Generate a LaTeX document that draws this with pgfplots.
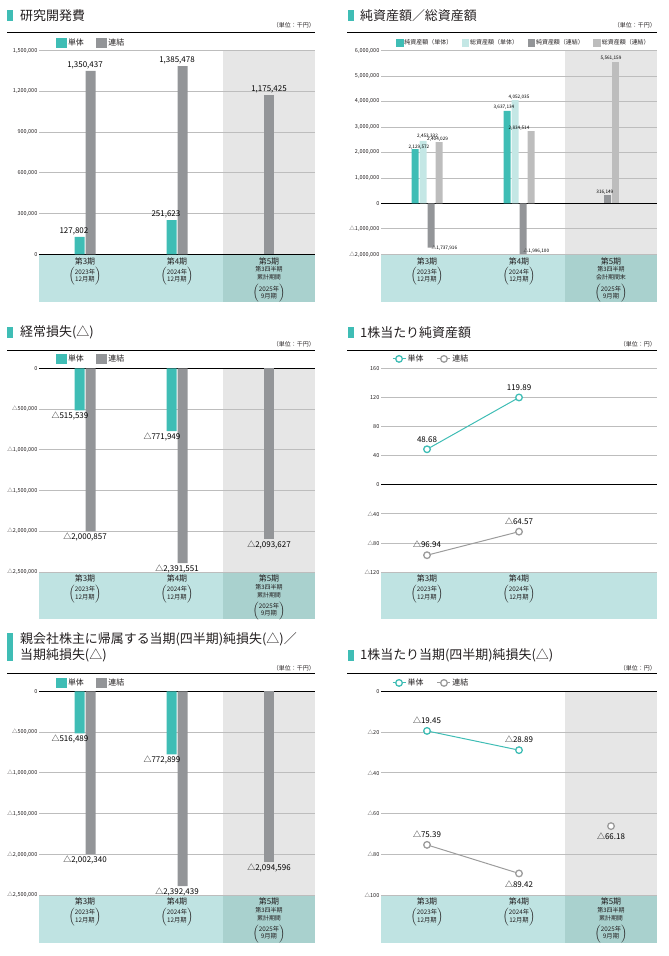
\documentclass[border=0pt]{standalone}
\usepackage{fontspec}
\setmainfont{Noto Sans CJK JP}
\usepackage{pgfplots}
\pgfplotsset{compat=1.18}

\definecolor{tealc}{HTML}{3FBDB5}
\definecolor{greyc}{HTML}{939598}
\definecolor{ltealc}{HTML}{C4E7E5}
\definecolor{lgreyc}{HTML}{BDBDBD}
\definecolor{bandc}{HTML}{BFE3E2}
\definecolor{band3c}{HTML}{A9D1CE}
\definecolor{bgc}{HTML}{E6E6E6}
\definecolor{gridc}{HTML}{BDBDBD}
\definecolor{txtc}{HTML}{231F20}
\definecolor{linegc}{HTML}{9C9C9C}

\newcommand{\fs}[1]{\fontsize{#1}{#1}\selectfont}
% category labels in the band
\newcommand{\paren}[2]{$\Bigl(\vcenter{\hbox{\fontsize{6.3}{6.8}\selectfont\begin{tabular}{@{}c@{}}#1\\#2\end{tabular}}}\Bigr)$}
\newcommand{\catA}[3]{\begin{tabular}{@{}c@{}}\fs{8}#1\\[0bp]\paren{#2}{#3}\end{tabular}}
\newcommand{\catB}[5]{\begin{tabular}{@{}c@{}}\fs{8}#1\\[-0.5bp]\fs{6}#2\\[0bp]\fs{6}#3\\[1.5bp]\paren{#4}{#5}\end{tabular}}

\pgfplotsset{
  base/.style={scale only axis, width=276bp, height=203.7bp,
    xmin=-0.5, xmax=2.5,
    axis line style={draw=none}, major tick length=0pt,
    ymajorgrids, grid style={gridc, line width=0.7bp},
    extra y ticks={0}, extra y tick labels={},
    extra y tick style={grid=major, major grid style={black, line width=1bp}},
    scaled y ticks=false, clip=false,
    yticklabel style={font=\fs{5.5}, text=txtc, inner sep=1.5bp},
    xticklabel style={font=\fs{8}, text=txtc, anchor=north, inner sep=0pt, yshift=-3bp},
    legend columns=-1,
    legend style={draw=none, fill=none, anchor=west, inner sep=0pt, outer sep=0pt,
      nodes={inner sep=1.5bp, text=txtc}},
    every node near coord/.append style={text=black, font=\fs{8}, inner sep=1.5bp},
  },
  lbl/.style={nodes near coords, point meta=explicit symbolic,
    visualization depends on={value \thisrow{A}\as\anc},
    visualization depends on={value \thisrow{DX}\as\dx},
    visualization depends on={value \thisrow{DY}\as\dy},
    every node near coord/.append style={anchor=\anc, xshift=\dx bp, yshift=\dy bp}},
  sq/.style={legend image code/.code={\fill[#1] (0bp,-4.5bp) rectangle (10bp,4.5bp);}},
  sqs/.style={legend image code/.code={\fill[#1] (0bp,-3.3bp) rectangle (6.6bp,3.3bp);}},
  lineleg/.style={legend image code/.code={\draw[mark repeat=2,mark phase=2,##1] plot coordinates {(0bp,0bp) (6.5bp,0bp) (13bp,0bp)};}},
  tline/.style={tealc, line width=1bp, mark=*, mark size=3.3bp, mark options={fill=white, line width=1.3bp}},
  gline/.style={linegc, line width=1bp, mark=*, mark size=3.3bp, mark options={fill=white, line width=1.3bp}},
}

\begin{document}
\begin{tikzpicture}[x=1bp,y=1bp]
\useasboundingbox (0,0) rectangle (669,956);

% backgrounds: shaded third column and category bands
\fill[bgc] (223,701.7) rectangle (315,905.3);
\fill[bandc] (39,701.7) rectangle (223,654);
\fill[band3c] (223,701.7) rectangle (315,654);
\fill[bgc] (565,701.7) rectangle (657,905.3);
\fill[bandc] (381,701.7) rectangle (565,654);
\fill[band3c] (565,701.7) rectangle (657,654);
\fill[bgc] (223,384) rectangle (315,587.7);
\fill[bandc] (39,384) rectangle (223,337);
\fill[band3c] (223,384) rectangle (315,337);
\fill[bandc] (381,384) rectangle (657,337);
\fill[bgc] (223,61) rectangle (315,264.7);
\fill[bandc] (39,61) rectangle (223,13);
\fill[band3c] (223,61) rectangle (315,13);
\fill[bgc] (565,61) rectangle (657,264.7);
\fill[bandc] (381,61) rectangle (565,13);
\fill[band3c] (565,61) rectangle (657,13);

% headers
\tikzset{ttl/.style={anchor=west, inner sep=0pt, text=txtc, font=\fs{13}},
         unit/.style={anchor=east, inner sep=0pt, text=txtc, font=\fs{6}}}
\fill[tealc] (7,946) rectangle (13,935);
\node[ttl] at (20,940.5) {研究開発費};
\node[unit] at (315,931) {（単位：千円）};
\draw[black, line width=1bp] (7,923) -- (315,923);

\fill[tealc] (348,946) rectangle (354,935);
\node[ttl] at (360,940.5) {純資産額／総資産額};
\node[unit] at (656,931) {（単位：千円）};
\draw[black, line width=1bp] (347,923) -- (657,923);

\fill[tealc] (7,629) rectangle (13,618);
\node[ttl] at (20,623.5) {経常損失(△)};
\node[unit] at (315,612) {（単位：千円）};
\draw[black, line width=1bp] (7,605) -- (315,605);

\fill[tealc] (348,629) rectangle (354,618);
\node[ttl] at (360,623.5) {1株当たり純資産額};
\node[unit] at (656,612) {（単位：円）};
\draw[black, line width=1bp] (347,605) -- (657,605);

\fill[tealc] (7,323) rectangle (13,295);
\node[ttl, align=left, font=\fontsize{13}{16.5}\selectfont] at (20,308.75) {親会社株主に帰属する当期(四半期)純損失(△)／\\当期純損失(△)};
\node[unit] at (315,288) {（単位：千円）};
\draw[black, line width=1bp] (7,282) -- (315,282);

\fill[tealc] (348,306) rectangle (354,295);
\node[ttl] at (360,300.5) {1株当たり当期(四半期)純損失(△)};
\node[unit] at (656,288) {（単位：円）};
\draw[black, line width=1bp] (347,282) -- (657,282);

% ---------- 研究開発費
\begin{axis}[base, at={(39bp,701.7bp)},
  ymin=0, ymax=1500000,
  ytick={0,300000,600000,900000,1200000,1500000},
  yticklabels={0,{300,000},{600,000},{900,000},{1,200,000},{1,500,000}},
  xtick={0,1,2},
  xticklabels={{\catA{第3期}{2023年}{12月期}},{\catA{第4期}{2024年}{12月期}},{\catB{第5期}{第3四半期}{累計期間}{2025年}{9月期}}},
  legend style={at={(0.062,1.04)}, font=\fs{8}, /tikz/every even column/.append style={column sep=11bp}}]
\addlegendimage{sq=tealc}\addlegendentry{単体}
\addlegendimage{sq=greyc}\addlegendentry{連結}
\addplot[ybar, bar width=10bp, bar shift=-5.5bp, fill=tealc, draw=none, forget plot, lbl]
  table[x=X,y=Y,meta=L,col sep=semicolon,row sep=\\]{
X;Y;L;A;DX;DY\\
0;127802;127,802;south east;5;0\\
1;251623;251,623;south east;5;0\\
};
\addplot[ybar, bar width=10bp, bar shift=5.5bp, fill=greyc, draw=none, forget plot, lbl]
  table[x=X,y=Y,meta=L,col sep=semicolon,row sep=\\]{
X;Y;L;A;DX;DY\\
0;1350437;1,350,437;south;0;0\\
1;1385478;1,385,478;south;0;0\\
};
\addplot[ybar, bar width=10bp, bar shift=0bp, fill=greyc, draw=none, forget plot, lbl]
  table[x=X,y=Y,meta=L,col sep=semicolon,row sep=\\]{
X;Y;L;A;DX;DY\\
2;1175425;1,175,425;south;0;0\\
};
\end{axis}

% ---------- 純資産額／総資産額
\begin{axis}[base, at={(381bp,701.7bp)},
  ymin=-2000000, ymax=6000000,
  ytick={-2000000,-1000000,0,1000000,2000000,3000000,4000000,5000000,6000000},
  yticklabels={{△2,000,000},{△1,000,000},0,{1,000,000},{2,000,000},{3,000,000},{4,000,000},{5,000,000},{6,000,000}},
  xtick={0,1,2},
  xticklabels={{\catA{第3期}{2023年}{12月期}},{\catA{第4期}{2024年}{12月期}},{\catB{第5期}{第3四半期}{会計期間末}{2025年}{9月期}}},
  every node near coord/.append style={font=\fs{4.7}, inner sep=1bp},
  legend style={at={(0.054,1.04)}, font=\fs{6}, /tikz/every even column/.append style={column sep=8bp}}]
\addlegendimage{sqs=tealc}\addlegendentry{純資産額（単体）}
\addlegendimage{sqs=ltealc}\addlegendentry{総資産額（単体）}
\addlegendimage{sqs=greyc}\addlegendentry{純資産額（連結）}
\addlegendimage{sqs=lgreyc}\addlegendentry{総資産額（連結）}
\addplot[ybar, bar width=7bp, bar shift=-12bp, fill=tealc, draw=none, forget plot, lbl]
  table[x=X,y=Y,meta=L,col sep=semicolon,row sep=\\]{
X;Y;L;A;DX;DY\\
0;2129572;2,129,572;south east;3.5;-1.5\\
1;3637134;3,637,134;south east;-3.5;0\\
};
\addplot[ybar, bar width=7bp, bar shift=-4bp, fill=ltealc, draw=none, forget plot, lbl]
  table[x=X,y=Y,meta=L,col sep=semicolon,row sep=\\]{
X;Y;L;A;DX;DY\\
0;2453332;2,453,332;south;0.5;1\\
1;4052035;4,052,035;south;0;0\\
};
\addplot[ybar, bar width=7bp, bar shift=4bp, fill=greyc, draw=none, forget plot, lbl]
  table[x=X,y=Y,meta=L,col sep=semicolon,row sep=\\]{
X;Y;L;A;DX;DY\\
0;-1737916;△1,737,916;west;3.5;0\\
1;-1996100;△1,996,100;south west;3.5;0\\
};
\addplot[ybar, bar width=7bp, bar shift=12bp, fill=lgreyc, draw=none, forget plot, lbl]
  table[x=X,y=Y,meta=L,col sep=semicolon,row sep=\\]{
X;Y;L;A;DX;DY\\
0;2404029;2,404,029;south west;-1;0\\
1;2834514;2,834,514;south;0;0\\
};
\addplot[ybar, bar width=7bp, bar shift=-4bp, fill=greyc, draw=none, forget plot, lbl]
  table[x=X,y=Y,meta=L,col sep=semicolon,row sep=\\]{
X;Y;L;A;DX;DY\\
2;316149;316,149;south east;3.5;0\\
};
\addplot[ybar, bar width=7bp, bar shift=4bp, fill=lgreyc, draw=none, forget plot, lbl]
  table[x=X,y=Y,meta=L,col sep=semicolon,row sep=\\]{
X;Y;L;A;DX;DY\\
2;5561159;5,561,159;south;0;0\\
};
\end{axis}

% ---------- 経常損失
\begin{axis}[base, at={(39bp,384bp)},
  ymin=-2500000, ymax=0,
  ytick={-2500000,-2000000,-1500000,-1000000,-500000,0},
  yticklabels={{△2,500,000},{△2,000,000},{△1,500,000},{△1,000,000},{△500,000},0},
  xtick={0,1,2},
  xticklabels={{\catA{第3期}{2023年}{12月期}},{\catA{第4期}{2024年}{12月期}},{\catB{第5期}{第3四半期}{累計期間}{2025年}{9月期}}},
  legend style={at={(0.062,1.046)}, font=\fs{8}, /tikz/every even column/.append style={column sep=11bp}}]
\addlegendimage{sq=tealc}\addlegendentry{単体}
\addlegendimage{sq=greyc}\addlegendentry{連結}
\addplot[ybar, bar width=10bp, bar shift=-5.5bp, fill=tealc, draw=none, forget plot, lbl]
  table[x=X,y=Y,meta=L,col sep=semicolon,row sep=\\]{
X;Y;L;A;DX;DY\\
0;-515539;△515,539;north east;5;0\\
1;-771949;△771,949;north east;5;0\\
};
\addplot[ybar, bar width=10bp, bar shift=5.5bp, fill=greyc, draw=none, forget plot, lbl]
  table[x=X,y=Y,meta=L,col sep=semicolon,row sep=\\]{
X;Y;L;A;DX;DY\\
0;-2000857;△2,000,857;north;0;0\\
1;-2391551;△2,391,551;north;0;0\\
};
\addplot[ybar, bar width=10bp, bar shift=0bp, fill=greyc, draw=none, forget plot, lbl]
  table[x=X,y=Y,meta=L,col sep=semicolon,row sep=\\]{
X;Y;L;A;DX;DY\\
2;-2093627;△2,093,627;north;0;0\\
};
\end{axis}

% ---------- 1株当たり純資産額
\begin{axis}[base, at={(381bp,384bp)},
  ymin=-120, ymax=160,
  ytick={-120,-80,-40,0,40,80,120,160},
  yticklabels={△120,△80,△40,0,40,80,120,160},
  xtick={0,1},
  xticklabels={{\catA{第3期}{2023年}{12月期}},{\catA{第4期}{2024年}{12月期}}},
  lineleg,
  legend style={at={(0.04,1.046)}, font=\fs{8}, /tikz/every even column/.append style={column sep=12bp}}]
\addlegendimage{tline}\addlegendentry{単体}
\addlegendimage{gline}\addlegendentry{連結}
\addplot[tline, forget plot, lbl]
  table[x=X,y=Y,meta=L,col sep=semicolon,row sep=\\]{
X;Y;L;A;DX;DY\\
0;48.68;48.68;south;0;5\\
1;119.89;119.89;south;0;5\\
};
\addplot[gline, forget plot, lbl]
  table[x=X,y=Y,meta=L,col sep=semicolon,row sep=\\]{
X;Y;L;A;DX;DY\\
0;-96.94;△96.94;south;0;5\\
1;-64.57;△64.57;south;0;5\\
};
\end{axis}

% ---------- 親会社株主に帰属する当期純損失
\begin{axis}[base, at={(39bp,61bp)},
  ymin=-2500000, ymax=0,
  ytick={-2500000,-2000000,-1500000,-1000000,-500000,0},
  yticklabels={{△2,500,000},{△2,000,000},{△1,500,000},{△1,000,000},{△500,000},0},
  xtick={0,1,2},
  xticklabels={{\catA{第3期}{2023年}{12月期}},{\catA{第4期}{2024年}{12月期}},{\catB{第5期}{第3四半期}{累計期間}{2025年}{9月期}}},
  legend style={at={(0.062,1.041)}, font=\fs{8}, /tikz/every even column/.append style={column sep=11bp}}]
\addlegendimage{sq=tealc}\addlegendentry{単体}
\addlegendimage{sq=greyc}\addlegendentry{連結}
\addplot[ybar, bar width=10bp, bar shift=-5.5bp, fill=tealc, draw=none, forget plot, lbl]
  table[x=X,y=Y,meta=L,col sep=semicolon,row sep=\\]{
X;Y;L;A;DX;DY\\
0;-516489;△516,489;north east;5;0\\
1;-772899;△772,899;north east;5;0\\
};
\addplot[ybar, bar width=10bp, bar shift=5.5bp, fill=greyc, draw=none, forget plot, lbl]
  table[x=X,y=Y,meta=L,col sep=semicolon,row sep=\\]{
X;Y;L;A;DX;DY\\
0;-2002340;△2,002,340;north;0;0\\
1;-2392439;△2,392,439;north;0;0\\
};
\addplot[ybar, bar width=10bp, bar shift=0bp, fill=greyc, draw=none, forget plot, lbl]
  table[x=X,y=Y,meta=L,col sep=semicolon,row sep=\\]{
X;Y;L;A;DX;DY\\
2;-2094596;△2,094,596;north;0;0\\
};
\end{axis}

% ---------- 1株当たり当期純損失
\begin{axis}[base, at={(381bp,61bp)},
  ymin=-100, ymax=0,
  ytick={-100,-80,-60,-40,-20,0},
  yticklabels={△100,△80,△60,△40,△20,0},
  xtick={0,1,2},
  xticklabels={{\catA{第3期}{2023年}{12月期}},{\catA{第4期}{2024年}{12月期}},{\catB{第5期}{第3四半期}{累計期間}{2025年}{9月期}}},
  lineleg,
  legend style={at={(0.04,1.041)}, font=\fs{8}, /tikz/every even column/.append style={column sep=12bp}}]
\addlegendimage{tline}\addlegendentry{単体}
\addlegendimage{gline}\addlegendentry{連結}
\addplot[tline, forget plot, lbl]
  table[x=X,y=Y,meta=L,col sep=semicolon,row sep=\\]{
X;Y;L;A;DX;DY\\
0;-19.45;△19.45;south;0;5\\
1;-28.89;△28.89;south;0;5\\
};
\addplot[gline, forget plot, lbl]
  table[x=X,y=Y,meta=L,col sep=semicolon,row sep=\\]{
X;Y;L;A;DX;DY\\
0;-75.39;△75.39;south;0;5\\
1;-89.42;△89.42;north;0;-5\\
};
\addplot[gline, only marks, forget plot, lbl]
  table[x=X,y=Y,meta=L,col sep=semicolon,row sep=\\]{
X;Y;L;A;DX;DY\\
2;-66.18;△66.18;north;0;-5\\
};
\end{axis}
\end{tikzpicture}
\end{document}
